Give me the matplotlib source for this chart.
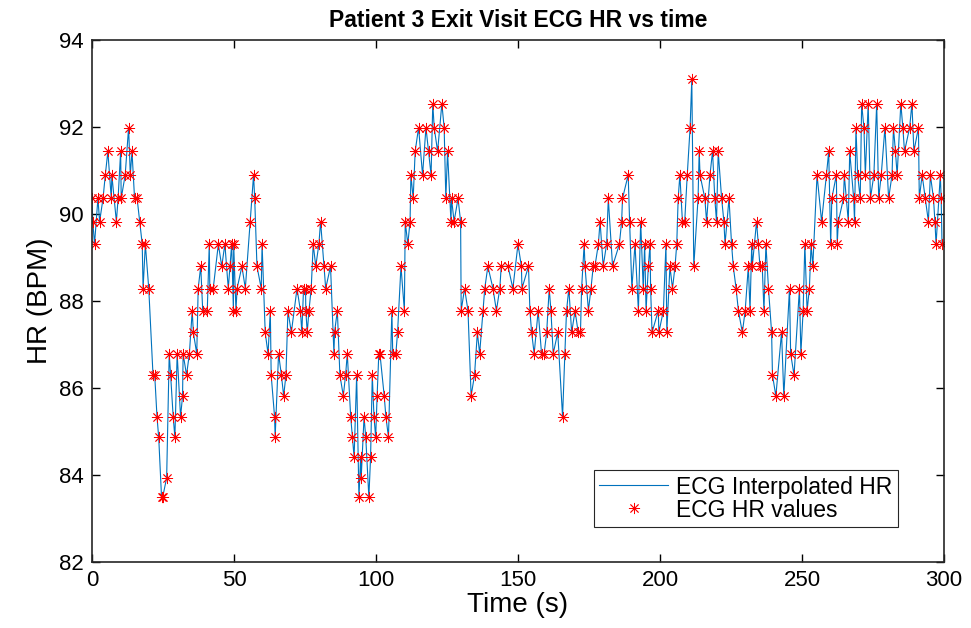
import matplotlib
matplotlib.use('Agg')
import matplotlib.pyplot as plt

plt.rcParams['font.family'] = ['Liberation Sans', 'DejaVu Sans']

# beat times (s) and instantaneous HR (BPM)
time_s = [0.0, 0.3, 0.9, 2.1, 2.7, 3.9, 4.7, 5.6, 6.8, 7.0, 8.6, 9.2, 10.1, 10.3,
          11.7, 12.9, 13.5, 14.1, 15.0, 15.9, 16.8, 17.7, 18.0, 18.8, 20.0, 21.5,
          22.1, 22.9, 23.5, 24.5, 24.9, 26.3, 27.2, 27.7, 28.6, 29.2, 30.0, 31.2,
          31.9, 32.1, 33.3, 34.3, 35.3, 35.7, 36.9, 37.4, 38.3, 39.0, 40.6, 41.3,
          41.5, 42.7, 44.5, 45.7, 46.8, 48.0, 48.6, 49.2, 49.8, 49.9, 50.7, 51.1,
          52.8, 54.0, 55.7, 56.9, 57.3, 58.1, 59.6, 59.9, 61.0, 62.0, 62.8, 63.1,
          64.3, 64.5, 65.7, 66.7, 67.5, 68.3, 69.0, 70.2, 72.2, 73.4, 73.9, 74.5,
          75.2, 75.3, 75.8, 76.4, 77.2, 77.9, 78.8, 79.9, 80.5, 81.7, 82.3, 84.0,
          85.2, 85.4, 86.4, 87.3, 88.5, 89.3, 89.9, 91.1, 91.7, 92.3, 93.2, 94.0,
          94.6, 94.8, 95.8, 96.4, 97.5, 98.1, 98.7, 99.3, 99.9, 100.4, 101.0, 101.4,
          102.9, 103.5, 104.4, 105.6, 105.9, 107.0, 107.6, 108.8, 110.0, 110.3, 111.2,
          112.0, 112.3, 113.1, 113.8, 115.0, 116.4, 117.6, 118.5, 119.4, 120.0, 120.5,
          121.7, 123.2, 124.0, 124.6, 125.2, 126.4, 126.6, 127.5, 128.9, 129.8, 130.0,
          131.2, 132.4, 133.5, 134.7, 135.7, 136.5, 137.7, 138.3, 139.4, 141.2, 142.4,
          143.6, 144.1, 146.5, 148.2, 150.0, 151.2, 151.4, 153.7, 154.2, 154.8, 155.7,
          157.1, 158.3, 159.2, 160.1, 161.0, 161.6, 162.4, 164.0, 165.7, 166.5, 167.1,
          167.9, 168.9, 170.1, 171.2, 172.0, 172.4, 173.3, 173.6, 174.8, 175.7, 176.5,
          177.1, 178.3, 178.9, 180.0, 181.2, 181.8, 183.3, 185.7, 186.5, 186.8, 188.8,
          189.3, 190.1, 191.2, 192.4, 193.2, 194.1, 194.6, 195.1, 195.9, 196.5, 196.7,
          197.2, 199.4, 199.6, 201.2, 202.1, 202.4, 203.5, 204.4, 205.3, 205.9, 206.4,
          207.0, 207.9, 208.7, 209.6, 210.6, 211.2, 211.9, 213.4, 213.8, 214.1, 215.8,
          216.4, 217.6, 218.5, 219.3, 219.9, 220.5, 221.7, 222.5, 222.9, 224.3, 225.2,
          225.8, 226.8, 227.6, 229.0, 230.0, 231.1, 231.7, 232.3, 232.5, 234.0, 234.6,
          235.2, 236.0, 236.6, 237.3, 238.2, 239.3, 239.6, 240.8, 242.8, 243.6, 245.6,
          246.0, 247.2, 249.1, 249.6, 250.4, 251.0, 251.8, 252.6, 253.2, 253.8, 255.3,
          256.9, 258.6, 259.4, 260.1, 260.5, 262.1, 262.4, 262.8, 264.6, 264.9, 266.3,
          266.8, 268.2, 268.5, 269.0, 269.6, 270.5, 271.0, 271.8, 272.3, 273.3, 274.1,
          275.3, 276.3, 277.0, 277.9, 279.2, 280.5, 281.7, 282.2, 282.9, 283.5, 284.8,
          285.5, 286.1, 287.9, 288.7, 289.4, 291.0, 291.3, 292.3, 293.4, 294.5, 295.2,
          296.3, 296.8, 297.2, 298.7, 299.0, 299.3]

hr_bpm = [90.35, 89.82, 89.30, 90.35, 89.82, 90.35, 90.89, 91.43, 90.35, 90.89, 89.82,
          90.35, 91.43, 90.35, 90.89, 91.98, 90.89, 91.43, 90.35, 90.35, 89.82, 89.30,
          88.28, 89.30, 88.28, 86.29, 86.29, 85.33, 84.86, 83.48, 83.48, 83.93, 86.78,
          86.29, 85.33, 84.86, 86.78, 85.33, 85.81, 86.78, 86.29, 86.78, 87.77, 87.27,
          86.78, 88.28, 88.79, 87.77, 87.77, 89.30, 88.28, 88.28, 89.30, 88.79, 89.30,
          88.28, 88.79, 89.30, 87.77, 89.30, 87.77, 88.28, 88.79, 88.28, 89.82, 90.89,
          90.35, 88.79, 88.28, 89.30, 87.27, 86.78, 87.77, 86.29, 85.33, 84.86, 86.78,
          86.29, 85.81, 86.29, 87.77, 87.27, 88.28, 87.77, 87.27, 88.28, 88.28, 87.77,
          87.27, 87.77, 88.28, 89.30, 88.79, 89.30, 89.82, 88.79, 88.28, 88.79, 86.78,
          87.27, 87.77, 86.29, 85.81, 86.29, 86.78, 85.33, 84.86, 84.40, 86.29, 83.48,
          84.40, 83.93, 85.33, 84.86, 83.48, 84.40, 86.29, 85.33, 84.86, 85.81, 86.78,
          86.78, 85.81, 85.33, 84.86, 87.77, 86.78, 86.78, 87.27, 88.79, 87.77, 89.82,
          89.30, 89.82, 90.89, 90.35, 91.43, 91.98, 90.89, 91.98, 91.43, 90.89, 92.53,
          91.98, 91.43, 92.53, 91.98, 90.35, 91.43, 89.82, 90.35, 89.82, 90.35, 89.82,
          87.77, 88.28, 87.77, 85.81, 86.29, 87.27, 86.78, 87.77, 88.28, 88.79, 88.28,
          87.77, 88.28, 88.79, 88.79, 88.28, 89.30, 88.79, 88.28, 88.79, 87.77, 87.27,
          86.78, 87.77, 86.78, 86.78, 87.27, 88.28, 87.77, 86.78, 87.27, 85.33, 86.78,
          87.77, 88.28, 87.27, 87.77, 87.27, 87.27, 88.28, 89.30, 88.79, 87.77, 88.28,
          88.79, 88.79, 89.30, 89.82, 88.79, 89.30, 90.35, 88.79, 89.30, 89.82, 90.35,
          90.89, 89.82, 88.28, 89.30, 87.77, 89.82, 88.28, 89.30, 87.77, 88.79, 89.30,
          88.28, 87.27, 87.77, 87.27, 87.77, 89.30, 87.27, 88.79, 88.28, 88.79, 89.30,
          90.35, 90.89, 89.82, 89.82, 90.89, 91.98, 93.09, 88.79, 90.35, 91.43, 90.89,
          90.35, 89.82, 90.89, 91.43, 90.35, 89.82, 91.43, 90.35, 89.82, 89.30, 90.35,
          89.30, 88.79, 88.28, 87.77, 87.27, 87.77, 88.79, 87.77, 89.30, 88.79, 89.82,
          89.30, 88.79, 88.79, 87.77, 89.30, 88.28, 87.27, 86.29, 85.81, 87.27, 85.81,
          88.28, 86.78, 86.29, 88.28, 86.78, 87.77, 89.30, 87.77, 88.28, 89.30, 88.79,
          90.89, 89.82, 90.89, 91.43, 89.30, 90.35, 90.89, 89.30, 89.82, 90.35, 90.89,
          89.82, 91.43, 90.35, 89.82, 91.98, 90.89, 90.35, 92.53, 91.98, 90.89, 92.53,
          90.35, 90.89, 92.53, 90.35, 90.89, 91.98, 90.35, 90.89, 91.98, 91.43, 90.89,
          92.53, 91.98, 91.43, 91.98, 92.53, 91.43, 91.98, 90.35, 90.89, 90.35, 89.82,
          90.89, 90.35, 89.82, 89.30, 90.89, 90.35, 89.30]

fig = plt.figure(figsize=(9.71, 6.28), dpi=100)
ax = fig.add_axes([0.0947, 0.1056, 0.8775, 0.8312])

ax.plot(time_s, hr_bpm, color='#0072BD', lw=0.8, label='ECG Interpolated HR')
ax.plot(time_s, hr_bpm, ls='', marker=(8, 2, 0), ms=8, mew=0.6,
        color='red', label='ECG HR values')

ax.set_xlim(0, 300)
ax.set_ylim(82, 94)
ax.set_xticks(range(0, 301, 50))
ax.set_yticks(range(82, 95, 2))
ax.tick_params(direction='in', top=True, right=True, labelsize=16, length=6,
               width=1, pad=6)
for s in ax.spines.values():
    s.set_linewidth(1.2)
    s.set_color('#262626')

ax.set_title('Patient 3 Exit Visit ECG HR vs time', fontsize=16.5,
             fontweight='bold', pad=9)
ax.set_xlabel('Time (s)', fontsize=20, labelpad=1)
ax.set_ylabel('HR (BPM)', fontsize=20, labelpad=4)

leg = ax.legend(loc='lower right', bbox_to_anchor=(0.946, 0.066), fontsize=16.5,
                fancybox=False, framealpha=1, edgecolor='#262626',
                borderaxespad=0, handlelength=3.0, handletextpad=0.35,
                borderpad=0.25, labelspacing=0.0)
leg.get_frame().set_linewidth(0.8)

plt.savefig('out.png', dpi=100)
